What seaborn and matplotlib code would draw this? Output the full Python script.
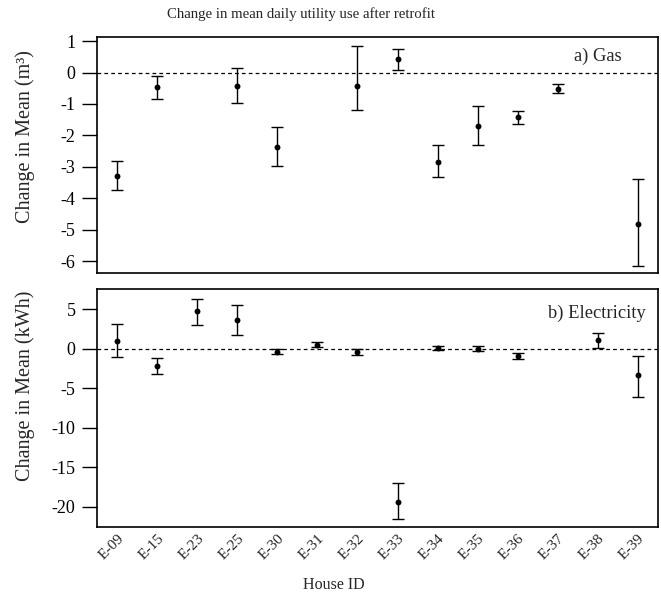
import numpy as np
import pandas as pd
import seaborn as sns
import matplotlib.pyplot as plt

# House IDs on the x axis
houses = ["E-09", "E-15", "E-23", "E-25", "E-30", "E-31", "E-32",
          "E-33", "E-34", "E-35", "E-36", "E-37", "E-38", "E-39"]

# a) Gas: mean change and interval (m3), NaN = no data
gas_mean = [-3.28, -0.47, np.nan, -0.42, -2.36, np.nan, -0.42,
            0.44, -2.84, -1.70, -1.43, -0.52, np.nan, -4.82]
gas_low = [-3.74, -0.85, np.nan, -0.96, -2.97, np.nan, -1.18,
           0.07, -3.31, -2.30, -1.63, -0.66, np.nan, -6.17]
gas_high = [-2.80, -0.10, np.nan, 0.13, -1.73, np.nan, 0.83,
            0.75, -2.32, -1.05, -1.21, -0.36, np.nan, -3.39]

# b) Electricity: mean change and interval (kWh)
elec_mean = [0.94, -2.19, 4.73, 3.63, -0.38, 0.51, -0.38,
             -19.37, 0.04, 0.0, -0.92, np.nan, 1.14, -3.37]
elec_low = [-1.01, -3.20, 3.00, 1.73, -0.67, 0.18, -0.76,
            -21.47, -0.21, -0.25, -1.26, np.nan, 0.13, -6.15]
elec_high = [3.09, -1.14, 6.33, 5.57, -0.08, 0.85, -0.04,
             -17.00, 0.30, 0.34, -0.59, np.nan, 2.03, -0.92]

sns.set_style("ticks")
plt.rcParams['font.family'] = ['Liberation Serif', 'DejaVu Serif']

fig = plt.figure(figsize=(6.61, 5.97), dpi=100)
ax1 = fig.add_axes([0.1467, 0.5427, 0.8488, 0.3953])
ax2 = fig.add_axes([0.1467, 0.1178, 0.8488, 0.3976])

panels = [
    (ax1, gas_mean, gas_low, gas_high, "a) Gas", (0.935, 0.92),
     "Change in Mean (m³)", 0.578, (-6.38, 1.13), [1, 0, -1, -2, -3, -4, -5, -6]),
    (ax2, elec_mean, elec_low, elec_high, "b) Electricity", (0.978, 0.90),
     "Change in Mean (kWh)", 0.592, (-22.5, 7.52), [5, 0, -5, -10, -15, -20]),
]

for ax, mean, low, high, label, lpos, ylab, ly, ylim, ticks in panels:
    df = pd.DataFrame({"house": houses, "mean": mean, "low": low, "high": high})
    ax.axhline(0, color="black", lw=0.9, ls=(0, (3, 2.5)), zorder=1)
    yerr = np.array([df["mean"] - df["low"], df["high"] - df["mean"]])
    ax.errorbar(df["house"], df["mean"], yerr=yerr, fmt="none", ecolor="black",
                elinewidth=1.0, capsize=4.5, capthick=1.0, zorder=2)
    sns.scatterplot(data=df, x="house", y="mean", ax=ax, color="black",
                    s=18, edgecolor="black", linewidth=0, zorder=3)
    ax.set_xlim(-0.5, len(houses) - 0.5)
    ax.set_ylim(*ylim)
    ax.set_yticks(ticks)
    ax.set_yticklabels([str(t) for t in ticks])
    ax.set_ylabel(ylab, fontsize=14.5)
    ax.yaxis.set_label_coords(-0.11, ly)
    ax.set_xlabel("")
    ax.text(lpos[0], lpos[1], label, transform=ax.transAxes, ha="right",
            va="center", fontsize=13.3)
    for sp in ax.spines.values():
        sp.set_visible(True)
        sp.set_linewidth(1.2)
        sp.set_color("black")
    ax.tick_params(axis="y", direction="out", length=10.5, width=1.0, pad=5,
                   labelsize=13, colors="black")

ax1.tick_params(axis="x", bottom=False, labelbottom=False)
ax2.tick_params(axis="x", length=0, labelsize=11, pad=4)
for lab in ax2.get_xticklabels():
    lab.set_rotation(45)
    lab.set_ha("right")
    lab.set_rotation_mode("anchor")
ax2.set_xlabel("")
fig.text(0.505, 0.02, "House ID", ha="center", va="center", fontsize=11.5)

fig.text(0.455, 0.977, "Change in mean daily utility use after retrofit",
         ha="center", va="center", fontsize=10.6)

fig.savefig("out.png", dpi=100)
